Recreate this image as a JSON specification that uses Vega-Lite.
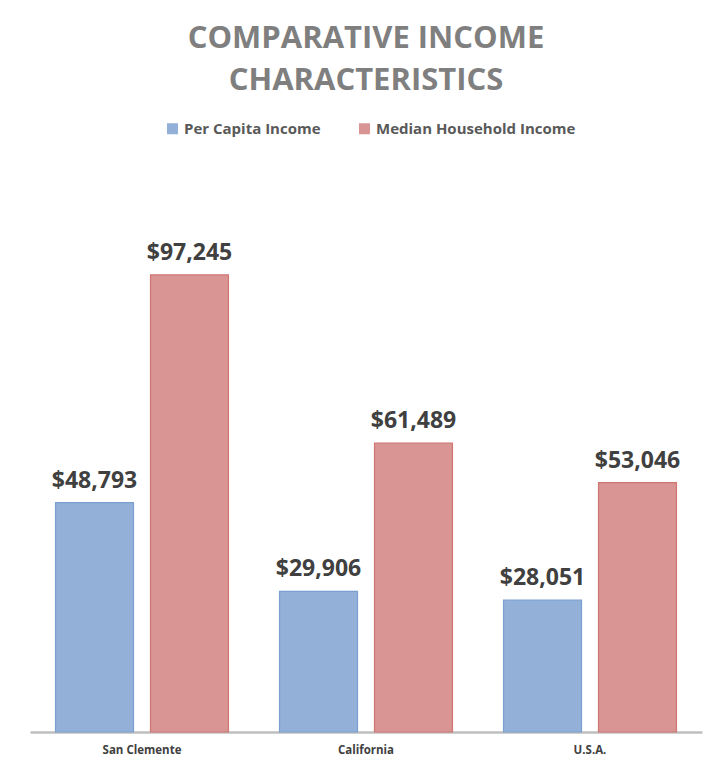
{
  "$schema": "https://vega.github.io/schema/vega-lite/v6.json",
  "width": 672,
  "height": 564,
  "autosize": "none",
  "padding": {"left": 30, "top": 168, "right": 16, "bottom": 39},
  "background": "white",
  "title": {
    "text": ["COMPARATIVE INCOME", "CHARACTERISTICS"],
    "font": "Open Sans",
    "fontSize": 31,
    "fontWeight": "bold",
    "color": "#7f7f7f",
    "lineHeight": 42,
    "anchor": "middle",
    "frame": "group",
    "offset": 24
  },
  "data": {
    "values": [
      {"area": "San Clemente", "series": "Per Capita Income", "value": 48793},
      {"area": "San Clemente", "series": "Median Household Income", "value": 97245},
      {"area": "California", "series": "Per Capita Income", "value": 29906},
      {"area": "California", "series": "Median Household Income", "value": 61489},
      {"area": "U.S.A.", "series": "Per Capita Income", "value": 28051},
      {"area": "U.S.A.", "series": "Median Household Income", "value": 53046}
    ]
  },
  "encoding": {
    "x": {
      "field": "area", "type": "nominal", "sort": null,
      "scale": {"paddingInner": 0.228, "paddingOuter": 0.114},
      "axis": {
        "title": null, "labelAngle": 0, "ticks": false,
        "domainColor": "#bfbfbf", "domainWidth": 2.5,
        "labelFont": "Open Sans", "labelFontWeight": "bold", "labelFontSize": 11.5,
        "labelColor": "#404040", "labelPadding": 12
      }
    },
    "xOffset": {
      "field": "series", "type": "nominal",
      "sort": ["Per Capita Income", "Median Household Income"],
      "scale": {"paddingInner": 0.179}
    },
    "y": {
      "field": "value", "type": "quantitative",
      "scale": {"domain": [0, 120000], "nice": false},
      "axis": null
    }
  },
  "layer": [
    {
      "mark": {"type": "bar", "strokeWidth": 1.2},
      "encoding": {
        "color": {
          "field": "series", "type": "nominal",
          "sort": ["Per Capita Income", "Median Household Income"],
          "scale": {"domain": ["Per Capita Income", "Median Household Income"], "range": ["#93b1d8", "#d99594"]},
          "legend": {
            "title": null, "orient": "none", "direction": "horizontal",
            "legendX": 135, "legendY": -47,
            "symbolType": "square", "symbolSize": 121, "symbolOpacity": 1, "symbolStrokeWidth": 0,
            "labelFont": "Open Sans", "labelFontWeight": "bold", "labelFontSize": 15,
            "labelColor": "#595959", "columnPadding": 36, "labelOffset": 4, "labelLimit": 400,
            "encode": {
              "symbols": {
                "update": {
                  "fill": {"signal": "datum.value === 'Per Capita Income' ? '#5f8fd0' : '#cd5f5c'"},
                  "stroke": {"value": "transparent"}
                }
              }
            }
          }
        },
        "stroke": {
          "field": "series", "type": "nominal",
          "scale": {"domain": ["Per Capita Income", "Median Household Income"], "range": ["#7a9fd0", "#cf7673"]},
          "legend": null
        }
      }
    },
    {
      "mark": {"type": "text", "baseline": "bottom", "dy": -10, "font": "Open Sans", "fontWeight": "bold", "fontSize": 23, "color": "#404040"},
      "encoding": {
        "text": {"field": "value", "type": "quantitative", "format": "$,.0f"}
      }
    }
  ],
  "config": {"view": {"stroke": null}}
}
